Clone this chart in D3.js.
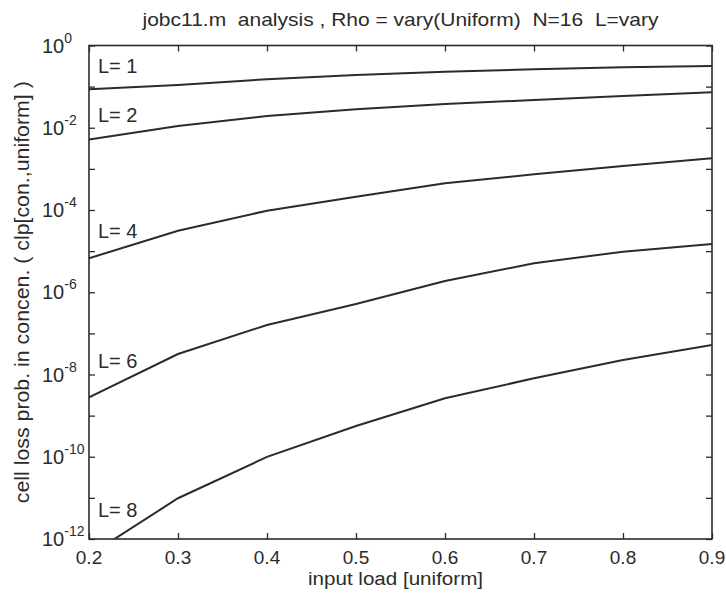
<!DOCTYPE html>
<html>
<head>
<meta charset="utf-8">
<script src="https://cdn.jsdelivr.net/npm/d3@7"></script>
<style>
  body { margin: 0; background: #fff; }
  text { font-family: "Liberation Sans", Arial, sans-serif; fill: #2b2b2b; white-space: pre; }
</style>
</head>
<body>
<div id="chart"></div>
<script>
// data
const loads = [0.2, 0.3, 0.4, 0.5, 0.6, 0.7, 0.8, 0.9]
const clpL1 = [8.6e-2, 1.10e-1, 1.51e-1, 1.92e-1, 2.31e-1, 2.64e-1, 2.95e-1, 3.18e-1]
const clpL2 = [5.2e-3, 1.10e-2, 1.93e-2, 2.81e-2, 3.78e-2, 4.73e-2, 5.92e-2, 7.28e-2]
const clpL4 = [6.7e-6, 3.14e-5, 9.6e-5, 2.10e-4, 4.46e-4, 7.38e-4, 1.17e-3, 1.81e-3]
const clpL6 = [2.79e-9, 3.15e-8, 1.60e-7, 5.18e-7, 1.88e-6, 5.06e-6, 9.7e-6, 1.49e-5]
const clpL8 = [4.0e-13, 9.8e-12, 9.9e-11, 5.6e-10, 2.64e-9, 8.1e-9, 2.25e-8, 5.2e-8]
const curveNames = ["L= 1", "L= 2", "L= 4", "L= 6", "L= 8"]
const xTicks = [0.2, 0.3, 0.4, 0.5, 0.6, 0.7, 0.8, 0.9]
const yLabelExps = [0, -2, -4, -6, -8, -10, -12]

const title = "jobc11.m  analysis , Rho = vary(Uniform)  N=16  L=vary"
const xTitle = "input load [uniform]"
const yTitle = "cell loss prob. in concen. ( clp[con.,uniform] )"

// dimensions
const width = 726, height = 597
const margin = { top: 45.5, right: 14, bottom: 58, left: 89 }
const innerW = width - margin.left - margin.right
const innerH = height - margin.top - margin.bottom
const ink = "#2b2b2b"

const svg = d3.select("#chart").append("svg")
  .attr("width", width)
  .attr("height", height)

const g = svg.append("g")
  .attr("transform", `translate(${margin.left},${margin.top})`)

// scales
const x = d3.scaleLinear().domain([0.2, 0.9]).range([0, innerW])
const y = d3.scaleLog().domain([1e-12, 1]).range([innerH, 0])
const decades = d3.range(-12, 1).map(e => Math.pow(10, e))

// axes, ticks pointing inward on all four sides
const styleAxis = sel => {
  sel.select(".domain").remove()
  sel.selectAll(".tick line").attr("stroke", ink).attr("stroke-width", 1.3)
  sel.selectAll(".tick text").remove()
}
g.append("g").attr("transform", `translate(0,${innerH})`)
  .call(d3.axisBottom(x).tickValues(xTicks).tickSize(-6)).call(styleAxis)
g.append("g")
  .call(d3.axisTop(x).tickValues(xTicks).tickSize(-6)).call(styleAxis)
g.append("g")
  .call(d3.axisLeft(y).tickValues(decades).tickSize(-6)).call(styleAxis)
g.append("g").attr("transform", `translate(${innerW},0)`)
  .call(d3.axisRight(y).tickValues(decades).tickSize(-6)).call(styleAxis)

g.append("rect")
  .attr("width", innerW).attr("height", innerH)
  .attr("fill", "none").attr("stroke", ink).attr("stroke-width", 1.6)

// x tick labels
g.selectAll(".xlab").data(xTicks).enter().append("text")
  .attr("class", "xlab")
  .attr("x", d => x(d))
  .attr("y", innerH + 25)
  .attr("text-anchor", "middle")
  .style("font-size", "19px")
  .text(d => d.toFixed(1))

// y tick labels 10^n
const ylab = g.selectAll(".ylab").data(yLabelExps).enter().append("text")
  .attr("class", "ylab")
  .attr("x", -47)
  .attr("y", d => y(Math.pow(10, d)) + 7)
  .style("font-size", "20px")
ylab.append("tspan").text("10")
ylab.append("tspan")
  .attr("dy", -10)
  .style("font-size", "14px")
  .text(d => d === 0 ? "0" : "-" + Math.abs(d))

// curves
const series = [clpL1, clpL2, clpL4, clpL6, clpL8]
svg.append("defs").append("clipPath").attr("id", "plotClip")
  .append("rect").attr("width", innerW).attr("height", innerH)

const line = d3.line()
  .x((d, i) => x(loads[i]))
  .y(d => y(d))

g.append("g").attr("clip-path", "url(#plotClip)")
  .selectAll("path").data(series).enter().append("path")
    .attr("d", line)
    .attr("fill", "none")
    .attr("stroke", ink)
    .attr("stroke-width", 2)

// curve labels, just above each curve's left end
const labelBase = [73, 122, 238, 368, 517]
g.selectAll(".clab").data(curveNames).enter().append("text")
  .attr("class", "clab")
  .attr("x", 9)
  .attr("y", (d, i) => labelBase[i] - margin.top)
  .style("font-size", "20px")
  .text(d => d)

// titles
svg.append("text")
  .attr("x", margin.left + innerW / 2)
  .attr("y", 26)
  .attr("text-anchor", "middle")
  .attr("textLength", 516)
  .attr("lengthAdjust", "spacingAndGlyphs")
  .style("font-size", "19px")
  .text(title)

svg.append("text")
  .attr("x", margin.left + innerW / 2 - 5)
  .attr("y", 585)
  .attr("text-anchor", "middle")
  .attr("textLength", 175)
  .attr("lengthAdjust", "spacingAndGlyphs")
  .style("font-size", "18px")
  .text(xTitle)

svg.append("text")
  .attr("transform", `translate(29,${margin.top + innerH / 2}) rotate(-90)`)
  .attr("text-anchor", "middle")
  .attr("textLength", 422)
  .attr("lengthAdjust", "spacingAndGlyphs")
  .style("font-size", "20px")
  .text(yTitle)
</script>
</body>
</html>
